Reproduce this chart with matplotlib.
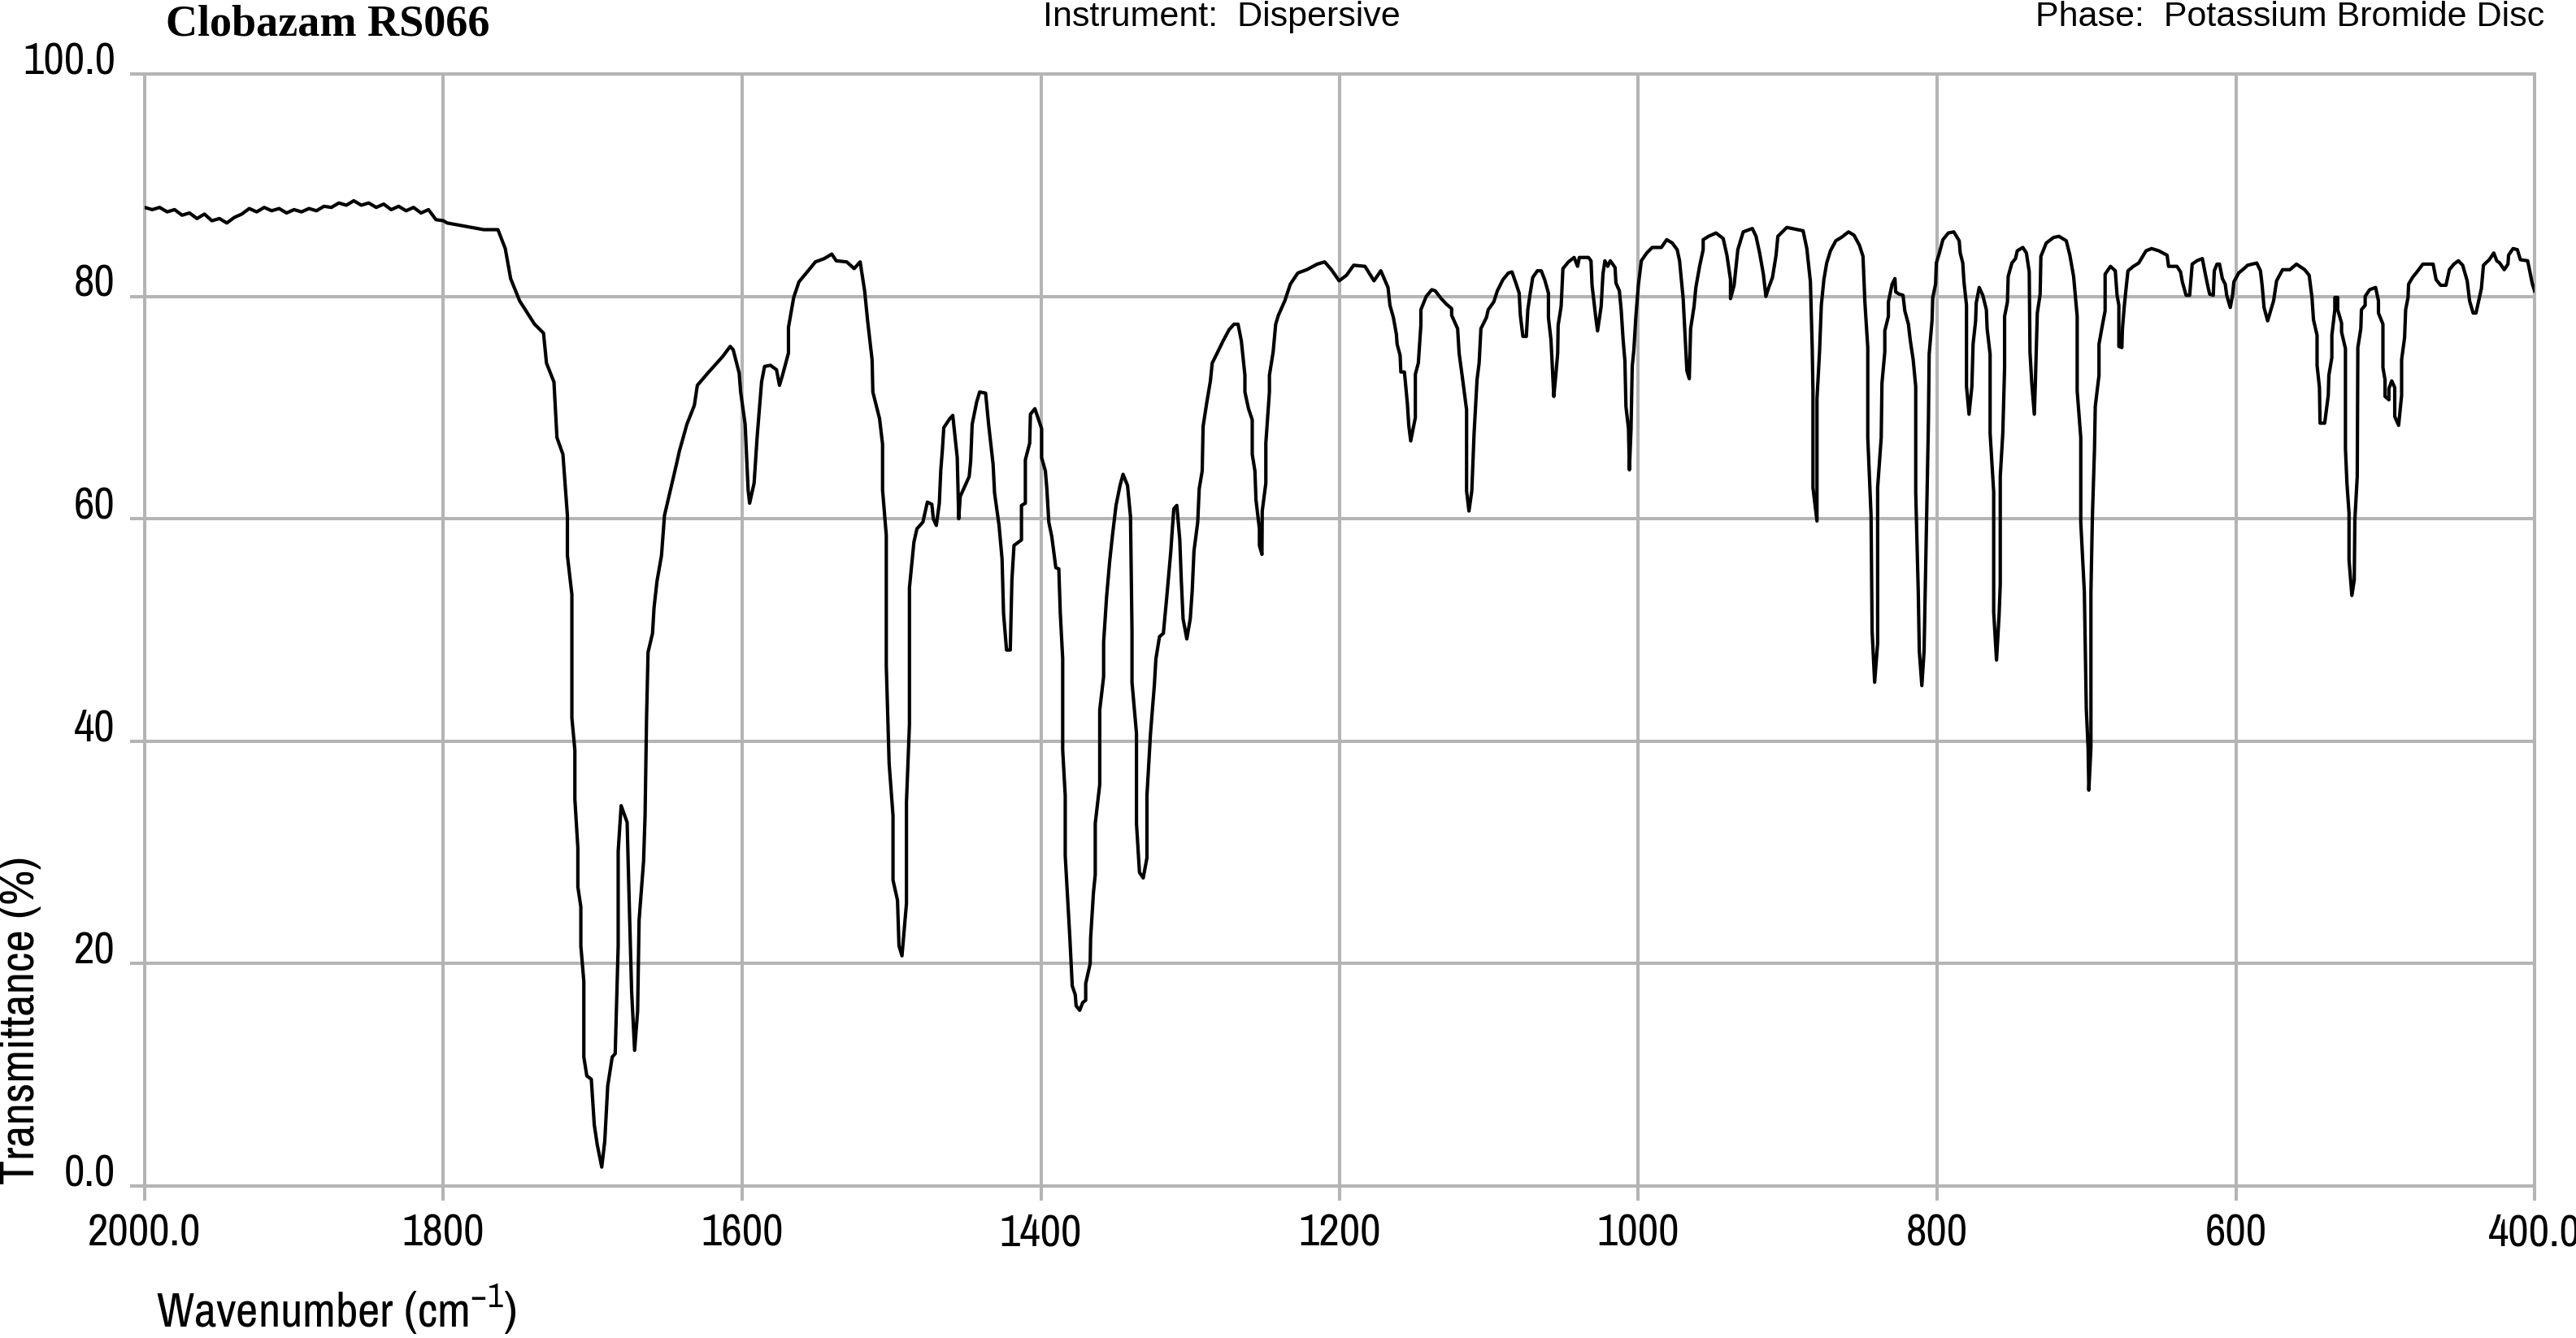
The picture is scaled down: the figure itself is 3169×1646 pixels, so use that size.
import matplotlib
matplotlib.use("Agg")
import matplotlib.pyplot as plt
from matplotlib import font_manager

# IR spectrum of Clobazam RS066
wavenumber = [
    2000, 1995, 1990, 1985, 1980, 1975, 1970, 1965, 1960, 1955, 1950, 1945, 1940, 1935,
    1930, 1925, 1920, 1915, 1910, 1905, 1900, 1895, 1890, 1885, 1880, 1875, 1870, 1865,
    1860, 1855, 1850, 1845, 1840, 1835, 1830, 1825, 1820, 1815, 1810, 1805, 1800,
    # 1800 - 1420
    1797.5, 1773, 1763.5, 1758.6, 1755, 1749, 1739, 1733, 1731, 1726, 1724, 1720, 1717, 1717,
    1714, 1714, 1712, 1712, 1710, 1710, 1708, 1708, 1706, 1706, 1704, 1701, 1699, 1697,
    1694, 1692, 1690, 1687, 1685, 1683, 1683, 1681, 1677, 1676, 1674, 1672, 1670, 1669,
    1666, 1665, 1664, 1663, 1660, 1659, 1657, 1654, 1652, 1648, 1644, 1642, 1637, 1632,
    1630, 1623, 1613, 1608, 1606, 1602, 1601, 1598, 1596, 1595, 1592, 1590, 1587, 1585,
    1581, 1577, 1575, 1573, 1569, 1569, 1565.5, 1562, 1554.6, 1551, 1545, 1540, 1537, 1530,
    1525, 1521, 1518, 1516, 1513, 1512.5, 1508, 1506, 1506, 1503.5, 1503.5, 1501.6, 1499, 1499,
    1496, 1495, 1493, 1490, 1490, 1488, 1488, 1485, 1483, 1479, 1476, 1473, 1472, 1470,
    1468, 1467, 1466, 1465, 1461, 1459, 1456, 1455, 1454, 1451, 1448, 1447, 1446, 1443,
    1441, 1437, 1435, 1432, 1431, 1428, 1426, 1425, 1423, 1420.5,
    # 1420 - 1172
    1419.4, 1418, 1413, 1413, 1410.4, 1410.4, 1407.5, 1407, 1404, 1402, 1399.5, 1399.5, 1397, 1396,
    1394.7, 1392.7, 1390, 1388, 1387, 1385.4, 1385.4, 1383.7, 1383.7, 1380.6, 1379, 1377, 1376.4, 1374,
    1372, 1370, 1370, 1367, 1366.7, 1364.8, 1363.6, 1363.6, 1360.6, 1360.6, 1358, 1358, 1356, 1354,
    1352, 1349.7, 1347, 1345, 1342, 1340, 1339, 1339, 1336, 1336, 1334, 1331.5, 1329, 1329,
    1326.6, 1324, 1323, 1320.6, 1318, 1315.7, 1313, 1312, 1311, 1309, 1307, 1306, 1304.8, 1302.3,
    1300, 1298.7, 1297.5, 1295, 1294, 1292, 1291.4, 1289, 1286.5, 1285.3, 1281.6, 1278, 1274, 1270.7,
    1268, 1265.8, 1263.4, 1263.4, 1261, 1258.5, 1258.5, 1256.7, 1256, 1253.7, 1253.7, 1252, 1251.8, 1249.4,
    1249.4, 1247, 1247, 1244.5, 1242.8, 1241, 1236.7, 1233, 1228, 1222, 1215, 1210, 1205.5, 1200.3,
    1195.4, 1190.6, 1183, 1177,
    # 1172 - 900
    1172.4, 1167.6, 1166.3, 1164, 1162, 1161.5, 1159.5, 1159, 1156.6, 1154.6, 1153.7, 1152.4, 1149.3, 1149.3,
    1147.3, 1145.6, 1145.6, 1142, 1138.3, 1136, 1132, 1128.5, 1125, 1125, 1121, 1120, 1117.6, 1115,
    1115, 1113.4, 1111.5, 1110, 1108, 1106.6, 1105.4, 1101.7, 1100.5, 1096.8, 1094.4, 1090.7, 1087, 1084.6,
    1082, 1079.8, 1079, 1077.3, 1075, 1074, 1072.4, 1070.7, 1067.6, 1065, 1062.7, 1060.2, 1060.2, 1058.5,
    1056.6, 1055.4, 1054, 1053.7, 1051.7, 1050.5, 1046.8, 1043, 1040.7, 1039.5, 1033.4, 1031.7, 1031, 1028.5,
    1027.3, 1024.9, 1023.7, 1022.4, 1020.5, 1018.8, 1015.6, 1015, 1012.7, 1011.5, 1010.2, 1009, 1008.3, 1006.6,
    1006, 1004.9, 1004.1, 1003, 1001.7, 1000, 998, 994.4, 990.7, 984.6, 981, 977.3, 974, 972.4,
    970, 968.3, 967.5, 965.9, 965, 962.7, 961.5, 959, 956.6, 956.6, 953, 948, 943.2, 940.7,
    938.3, 938.3, 935.9, 933.4, 929.8, 923.7, 921.2, 918.8, 916.3, 914.6, 912.7, 910.2, 907.8, 906.6,
    # 900 - 575
    900.6, 889.7, 887.2, 884.8, 883.6, 883.1, 883.1, 880.4, 880.4, 878.7, 877.5, 875.8, 873.9, 871.4,
    867.8, 864.1, 859.3, 855.6, 852, 849.6, 848.3, 846.4, 846.4, 844.2, 843.5, 841.8, 839.8, 839.8,
    837.4, 836.9, 835, 835, 832.6, 832.6, 830.1, 828.2, 827.7, 825.3, 822.8, 821.6, 819.2, 818,
    816, 814.3, 814.3, 812.6, 811.9, 810.2, 808.7, 807, 805.8, 805.3, 803.4, 802.9, 801, 800.5,
    798.5, 796.1, 792.5, 788.8, 785.2, 784.5, 782.8, 782, 780.3, 780.3, 778.6, 776.7, 775.9, 774.2,
    773.8, 771.8, 769.4, 767, 766.5, 764.5, 764.5, 762.1, 762.1, 760.2, 758.5, 757.7, 757.7, 756,
    754.8, 754.8, 752.9, 752.4, 749.9, 747.5, 746.3, 742.6, 740.2, 738.3, 737.8, 736.6, 734.9, 734.2,
    732.9, 731, 730.5, 726.9, 722, 718.4, 713.5, 711.1, 708.6, 706.2, 706.2, 703.8, 703.8, 701.4,
    700.1, 698.9, 698.4, 697, 697, 696, 694.6, 694.1, 691.6, 691.6, 689.2, 687.5, 687.5, 683.9,
    680.7, 679.5, 678.3, 678.3, 676.3, 675.9, 674.6, 673.4, 672.2, 668.6, 665, 660.1, 656.4, 651.6,
    646, 645, 639.4, 637, 635.8, 633.3, 630.9, 629.2, 626.1, 622.4, 620.7, 618.7, 617.5, 615.1,
    614.4, 612.6, 610.9, 609, 607.1, 606.1, 603.7, 602.2, 601.3, 598.1, 594.5, 592.1, 586, 583.5,
    582.3, 581.1, 578.7,
    # 575 - 400
    574.7, 572.7, 568.7, 563.8, 559.4, 553.9, 550.9, 549, 548, 545.6, 545.6, 544, 543.6, 540.5,
    538.1, 537.7, 535.7, 535.7, 533.7, 533.7, 531.8, 531.8, 529.2, 529.2, 526.6, 526.6, 525.6, 524.2,
    524.2, 522.3, 520.7, 520.3, 518.7, 518.3, 516.3, 515.9, 513.4, 513.4, 510.4, 506.4, 504.5, 504.5,
    501.5, 501.5, 500.1, 500.1, 497.5, 497.5, 495.6, 493.6, 493.6, 491, 489, 489, 487, 486.3,
    484.7, 484.3, 481.7, 478.7, 474.8, 467.9, 465.9, 462.9, 459.3, 457, 454, 451, 448.1, 445.1,
    443.5, 441.1, 439.2, 435.6, 434.2, 430.3, 427.3, 425.3, 423.3, 420.3, 417.8, 417.4, 414.4, 411.5,
    409.5, 404.6, 401.6, 400,
]

transmittance = [
    88.0, 87.8, 88.0, 87.6, 87.8, 87.3, 87.5, 87.0, 87.4, 86.8, 87.0, 86.6, 87.1, 87.4,
    87.9, 87.6, 88.0, 87.7, 87.9, 87.5, 87.8, 87.6, 87.9, 87.7, 88.1, 88.0, 88.4, 88.2,
    88.6, 88.2, 88.4, 88.0, 88.3, 87.8, 88.1, 87.7, 88.0, 87.5, 87.8, 86.9, 86.8,
    # 1800 - 1420
    86.6, 86.0, 86.0, 84.3, 81.6, 79.6, 77.5, 76.7, 74.0, 72.3, 67.3, 65.8, 60.3, 56.7,
    53.2, 42.1, 39.2, 34.8, 30.4, 26.9, 25.1, 21.6, 18.4, 11.6, 9.9, 9.6, 5.5, 3.7,
    1.7, 4.0, 9.0, 11.6, 11.9, 21.6, 30.1, 34.2, 32.7, 27.5, 17.5, 12.2, 15.7, 23.9,
    29.2, 33.3, 42.1, 48.0, 49.7, 52.0, 54.4, 56.7, 60.3, 62.6, 64.9, 66.1, 68.5, 70.2,
    72.0, 73.1, 74.6, 75.5, 75.2, 73.1, 71.4, 68.5, 62.6, 61.4, 63.2, 67.3, 72.3, 73.7,
    73.8, 73.4, 72.0, 72.9, 74.9, 77.2, 79.9, 81.3, 82.5, 83.1, 83.4, 83.8, 83.2, 83.1,
    82.5, 83.1, 80.5, 77.8, 74.3, 71.4, 69.0, 66.7, 62.6, 58.5, 46.8, 38.0, 33.3, 27.5,
    25.7, 21.6, 20.7, 25.4, 34.5, 41.5, 53.8, 57.9, 59.1, 59.7, 61.5, 61.3, 60.0, 59.4,
    61.4, 64.4, 66.1, 68.2, 69.0, 69.3, 65.5, 60.0, 62.0, 62.9, 63.8, 65.2, 68.5, 70.5,
    71.4, 71.3, 68.5, 64.9, 62.3, 59.4, 56.4, 51.5, 48.2, 48.2,
    # 1420 - 1172
    54.5, 57.6, 58.1, 61.2, 61.4, 65.3, 66.8, 69.4, 69.9, 69.1, 68.1, 65.5, 64.3, 62.7,
    59.7, 58.4, 55.6, 55.5, 51.5, 47.4, 39.2, 35.1, 29.7, 22.3, 18.0, 17.2, 16.2, 15.8,
    16.5, 16.7, 18.2, 20.0, 22.3, 26.4, 28.0, 32.6, 36.1, 42.8, 45.8, 48.9, 53.0, 56.1,
    58.6, 61.2, 63.0, 64.0, 63.0, 60.2, 49.9, 45.3, 40.7, 32.6, 28.2, 27.7, 29.5, 35.1,
    40.7, 45.1, 47.4, 49.4, 49.7, 53.0, 57.1, 59.1, 60.9, 61.2, 58.1, 54.5, 51.0, 49.2,
    51.0, 53.5, 57.1, 59.7, 62.7, 64.3, 68.3, 70.4, 72.4, 74.0, 75.0, 76.0, 77.0, 77.5,
    77.5, 76.0, 72.9, 71.4, 69.9, 68.9, 65.8, 64.3, 61.7, 59.1, 57.6, 56.8, 60.7, 63.2,
    66.8, 71.4, 72.9, 75.0, 77.5, 78.3, 79.6, 81.1, 82.1, 82.4, 82.9, 83.1, 82.4, 81.4,
    81.9, 82.8, 82.7, 81.4,
    # 1172 - 900
    82.3, 80.8, 79.2, 78.1, 76.6, 75.7, 74.7, 73.2, 73.2, 70.3, 68.4, 67.0, 69.1, 73.0,
    74.0, 77.4, 78.8, 80.0, 80.6, 80.5, 79.8, 79.3, 78.9, 78.3, 77.1, 74.9, 72.5, 69.8,
    62.5, 60.7, 62.5, 67.6, 72.5, 74.0, 77.1, 78.1, 78.8, 79.5, 80.5, 81.5, 82.1, 82.2,
    81.2, 80.3, 78.3, 76.4, 76.4, 78.8, 80.3, 81.7, 82.3, 82.3, 81.5, 80.3, 78.1, 76.1,
    71.0, 72.7, 74.9, 77.4, 79.1, 82.5, 83.1, 83.5, 82.7, 83.5, 83.5, 83.2, 81.0, 78.1,
    76.9, 79.1, 82.0, 83.2, 82.7, 83.2, 82.6, 81.2, 80.5, 78.8, 76.1, 74.2, 70.1, 68.1,
    64.4, 68.1, 73.7, 75.2, 78.1, 81.0, 83.2, 83.9, 84.4, 84.4, 85.1, 84.8, 84.2, 83.2,
    79.8, 75.4, 73.3, 72.6, 77.1, 79.1, 80.8, 82.7, 84.2, 85.1, 85.4, 85.7, 85.2, 83.7,
    81.5, 79.8, 81.0, 84.2, 85.8, 86.1, 85.4, 83.9, 82.0, 80.0, 80.8, 81.7, 83.7, 85.4,
    # 900 - 575
    86.2, 85.9, 84.3, 81.3, 75.4, 71.5, 62.8, 59.8, 70.8, 75.0, 79.2, 81.5, 83.0, 84.1,
    85.0, 85.3, 85.8, 85.5, 84.6, 83.6, 79.4, 75.4, 67.3, 60.3, 49.9, 45.3, 48.8, 62.8,
    67.3, 72.2, 75.0, 76.9, 78.2, 79.5, 81.1, 81.6, 80.4, 80.2, 80.1, 78.7, 77.5, 76.1,
    74.3, 71.9, 62.4, 53.4, 48.1, 45.0, 48.1, 60.3, 68.7, 74.8, 77.8, 79.9, 81.1, 83.0,
    83.9, 85.1, 85.7, 85.8, 85.0, 83.9, 83.0, 81.3, 79.2, 71.9, 69.4, 71.9, 75.7, 77.8,
    79.4, 80.8, 80.1, 78.8, 77.1, 74.8, 67.7, 62.4, 51.6, 47.3, 51.3, 54.1, 63.8, 67.7,
    73.6, 78.2, 79.5, 81.8, 83.0, 83.4, 84.1, 84.4, 83.9, 82.2, 75.0, 72.2, 69.4, 72.2,
    78.5, 80.2, 83.6, 84.8, 85.3, 85.4, 85.0, 83.7, 81.8, 78.2, 71.5, 67.3, 59.7, 53.4,
    42.9, 39.4, 35.6, 39.4, 53.4, 60.3, 66.3, 70.1, 72.9, 75.7, 77.5, 78.7, 82.0, 82.7,
    82.3, 80.1, 79.2, 75.5, 75.4, 77.1, 79.2, 80.8, 82.3, 82.7, 83.0, 84.1, 84.3, 84.1,
    83.7, 82.7, 82.7, 82.2, 81.3, 80.1, 80.1, 82.9, 83.2, 83.4, 82.2, 80.9, 80.2, 80.1,
    82.3, 82.9, 82.9, 81.6, 81.1, 80.1, 79.0, 80.1, 81.3, 82.1, 82.5, 82.8, 83.0, 82.3,
    80.9, 79.0, 77.8,
    # 575 - 400
    79.6, 81.4, 82.4, 82.4, 82.9, 82.4, 81.9, 79.9, 77.9, 76.5, 73.8, 71.8, 68.6, 68.6,
    71.1, 72.9, 74.5, 76.5, 78.8, 79.9, 79.9, 78.8, 77.6, 76.8, 75.3, 66.3, 63.2, 60.5,
    56.3, 53.1, 54.5, 59.9, 63.8, 75.4, 77.1, 78.8, 79.2, 80.0, 80.6, 80.8, 79.6, 78.5,
    77.5, 73.6, 72.5, 71.0, 70.7, 71.7, 72.4, 71.8, 69.2, 68.4, 71.1, 74.3, 76.3, 78.8,
    79.9, 81.1, 81.7, 82.2, 82.9, 82.9, 81.5, 81.0, 81.0, 82.4, 82.9, 83.2, 82.8, 81.4,
    79.6, 78.5, 78.5, 80.7, 82.8, 83.3, 83.9, 83.2, 83.0, 82.4, 82.9, 83.7, 84.3, 84.2,
    83.3, 83.2, 81.2, 80.5,
]

x_ticks = [2000, 1800, 1600, 1400, 1200, 1000, 800, 600, 400]
x_tick_labels = ["2000.0", "1800", "1600", "1400", "1200", "1000", "800", "600", "400.0"]
y_ticks = [0, 20, 40, 60, 80, 100]
y_tick_labels = ["0.0", "20", "40", "60", "80", "100.0"]

# axis text is Arial Narrow in the reference; take the closest narrow sans that is here
names = {f.name for f in font_manager.fontManager.ttflist}
narrow = "Liberation Sans"
for cand in ["Liberation Sans Narrow", "Arial Narrow", "Archivo Narrow", "Roboto Condensed", "Liberation Sans"]:
    if cand in names:
        narrow = cand
        break
sans = [narrow, "DejaVu Sans"]
regular = ["Liberation Sans", "DejaVu Sans"]
serif = ["Liberation Serif", "DejaVu Serif"]

W, H = 3169, 1646
fig = plt.figure(figsize=(W / 100, H / 100), dpi=100)
ax = fig.add_axes([178 / W, 1 - 1459 / H, (3118 - 178) / W, (1459 - 91) / H])

grey = "#b4b4b4"
ax.plot(wavenumber, transmittance, color="black", lw=3.0, zorder=3)

ax.set_xlim(2000, 400)
ax.set_ylim(0, 100)
ax.set_xticks(x_ticks)
ax.set_xticklabels(x_tick_labels)
ax.set_yticks(y_ticks)
ax.set_yticklabels(y_tick_labels)
ax.grid(True, color=grey, lw=2.9, zorder=1)
for s in ax.spines.values():
    s.set_color(grey)
    s.set_linewidth(2.9)
ax.tick_params(axis="both", which="major", length=13, width=2.9, color=grey,
               direction="out", labelsize=40)
ax.tick_params(axis="x", pad=11)
ax.tick_params(axis="y", pad=13)
for lab in ax.get_xticklabels() + ax.get_yticklabels():
    lab.set_family(sans)
# y labels sit on their grid line, not centred on it
for lab in ax.get_yticklabels():
    lab.set_verticalalignment("baseline")

fig.text(204 / W, 1 - 44 / H, "Clobazam RS066", family=serif,
         fontweight="bold", fontsize=39, ha="left", va="baseline")
fig.text(1283 / W, 1 - 32 / H, "Instrument:  Dispersive", family=regular,
         fontsize=31, ha="left", va="baseline")
fig.text(3130 / W, 1 - 32 / H, "Phase:  Potassium Bromide Disc", family=regular,
         fontsize=31, ha="right", va="baseline")
fig.text(192 / W, 1 - 1611 / H, r"Wavenumber (cm$^{\mathregular{-1}}$)", family=sans,
         fontsize=43, ha="left", va="center")
fig.text(26 / W, 1 - 1457 / H, "Transmittance (%)", family=sans, rotation=90,
         fontsize=43, ha="center", va="bottom")

fig.savefig("out.png", dpi=100)
